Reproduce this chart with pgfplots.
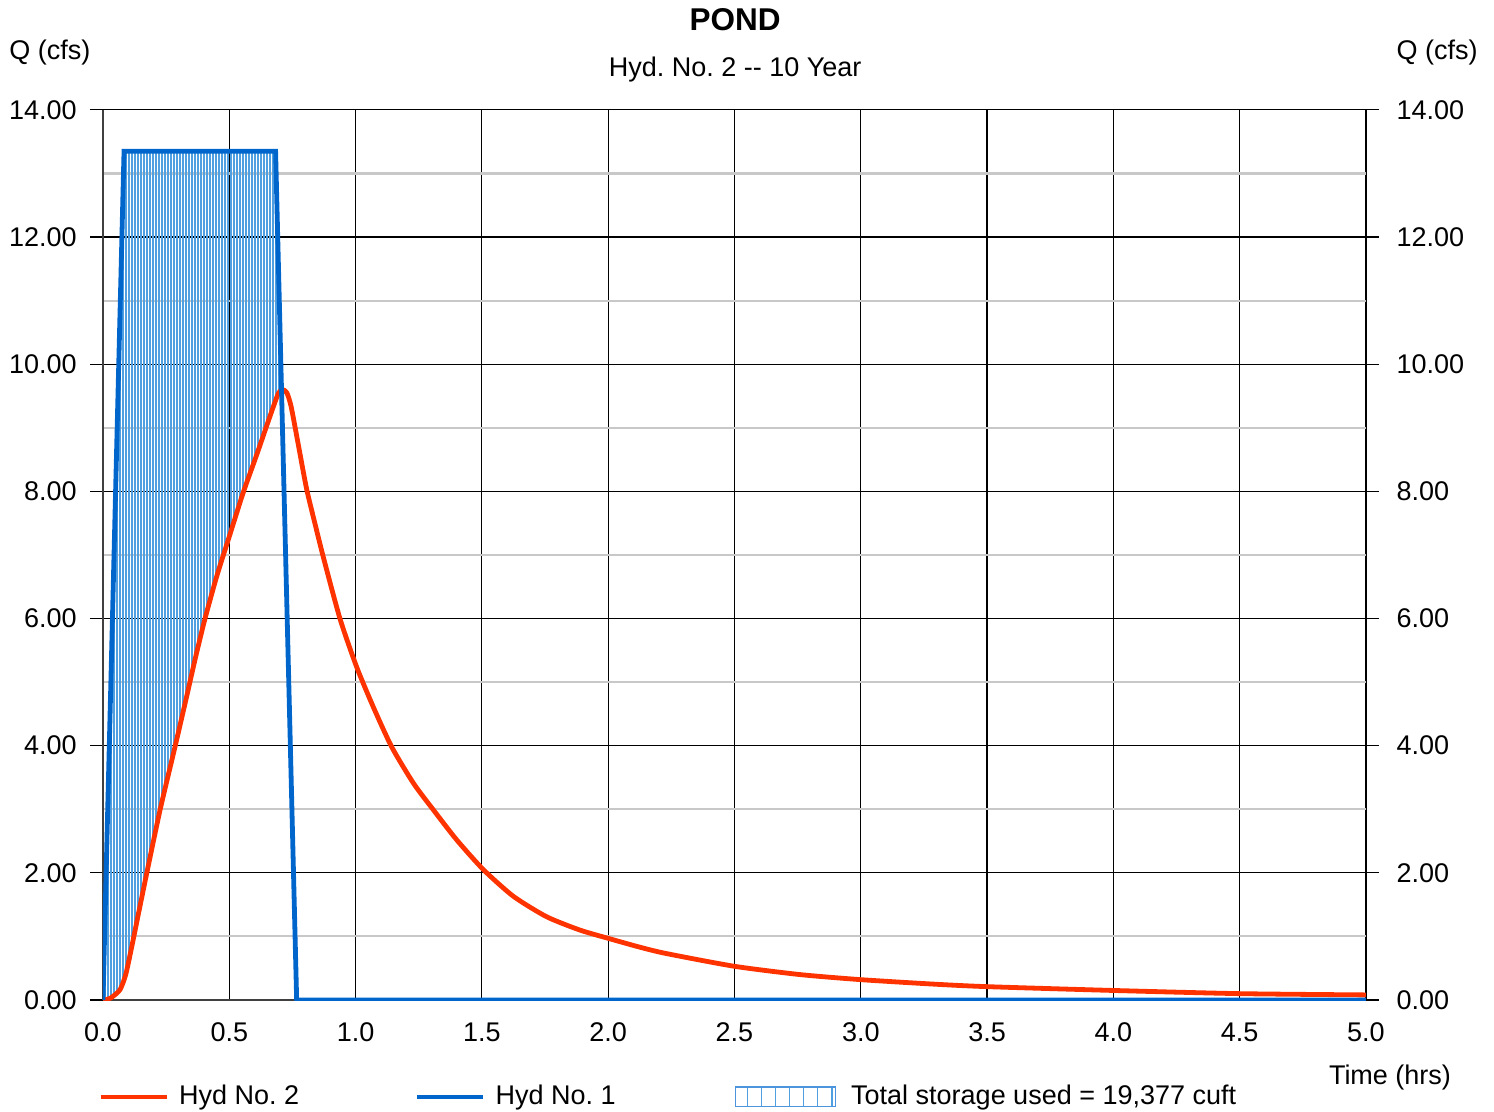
\documentclass[border=0pt]{standalone}
\usepackage{fontspec}
\setmainfont{Liberation Sans}
\usepackage{pgfplots}
\pgfplotsset{compat=1.18}
\usepackage{pgfplotstable}
\usepgfplotslibrary{fillbetween}
\usetikzlibrary{patterns.meta}

\definecolor{hydred}{RGB}{255,51,0}
\definecolor{hydblue}{RGB}{0,102,204}
\definecolor{hatchblue}{RGB}{80,160,225}
\definecolor{minorgray}{RGB}{200,200,200}

% Hyd No. 2 (outflow)
\pgfplotstableread{
t q
0 0
0.03 0.03
0.067 0.16
0.09 0.4
0.114 0.84
0.14 1.35
0.173 1.99
0.226 2.99
0.285 3.98
0.331 4.77
0.367 5.40
0.404 6.0
0.45 6.66
0.5 7.29
0.555 7.98
0.608 8.57
0.661 9.18
0.694 9.54
0.711 9.6
0.728 9.55
0.745 9.33
0.773 8.74
0.806 8.04
0.84 7.48
0.872 6.97
0.938 6.0
1.004 5.24
1.07 4.61
1.143 3.98
1.229 3.41
1.308 2.99
1.4 2.52
1.506 2.05
1.625 1.63
1.756 1.31
1.888 1.10
2.0 0.97
2.126 0.83
2.231 0.73
2.5 0.53
2.759 0.40
3.0 0.32
3.287 0.25
3.5 0.21
4.0 0.15
4.5 0.10
5.0 0.08
}\hydtwo

% Hyd No. 1 (inflow)
\pgfplotstableread{
t q
0 0
0.0833 13.35
0.6833 13.35
0.7667 0
5.0 0
}\hydone

\begin{document}
\frenchspacing
\fontsize{9}{10.8}\selectfont
\begin{tikzpicture}
\begin{axis}[
  at={(0,0)}, anchor=south west,
  scale only axis, width=421pt, height=296.7pt,
  xmin=0, xmax=5, ymin=0, ymax=14,
  xtick={0,0.5,...,5}, ytick={0,2,...,14},
  minor y tick num=1,
  xmajorgrids, ymajorgrids, yminorgrids,
  major grid style={black, line width=0.4pt},
  minor grid style={minorgray, line width=0.7pt},
  axis lines*=left,
  axis line style={-, black!75, line width=0.5pt},
  xtick style={draw=none},
  ytick pos=left,
  ytick style={black, line width=0.4pt},
  minor tick length=0pt,
  major tick length=4.3pt,
  tick align=outside,
  /pgf/number format/assume math mode=true,
  xticklabel style={/pgf/number format/.cd, fixed, fixed zerofill, precision=1},
  yticklabel style={xshift=-1.3pt, /pgf/number format/.cd, fixed, fixed zerofill, precision=2},
  xlabel={Time (hrs)},
  xlabel style={at={(axis description cs:1,0)}, anchor=center, xshift=8pt, yshift=-26pt},
  legend columns=3,
  legend cell align=left,
  legend style={at={(0,0)}, anchor=west, xshift=-1.8pt, yshift=-32.3pt,
    draw=none, fill=none, inner sep=0pt},
  legend image code/.code={\draw[#1] (0pt,0pt) -- (22pt,0pt); \path (23.4pt,0pt);},
]
\addplot[draw=none, name path=blue, forget plot] table[x=t, y=q] {\hydone};
\addplot[draw=none, smooth, tension=0.4, name path=red, forget plot] table[x=t, y=q] {\hydtwo};
\addplot[pattern={Lines[angle=90, distance=1pt, line width=0.6pt]},
  pattern color=hatchblue, forget plot]
  fill between[of=blue and red, soft clip={domain=0:0.71}];

\addplot[hydred, line width=1.6pt, line join=round, smooth, tension=0.4] table[x=t, y=q] {\hydtwo};
\addlegendentry{\makebox[76.5pt][l]{Hyd No. 2}}
\addplot[hydblue, line width=1.6pt] table[x=t, y=q] {\hydone};
\addlegendentry{\makebox[77.8pt][l]{Hyd No. 1}}
\addlegendimage{legend image code/.code={
  \draw[hydblue!70, line width=0.4pt, pattern={Lines[angle=90, distance=4.7pt, line width=0.4pt]},
    pattern color=hatchblue] (0pt,-3.3pt) rectangle (33.3pt,3.3pt);
  \path (36.3pt,0pt);}}
\addlegendentry{Total storage used = 19,377 cuft}
\end{axis}

% right-hand scale
\begin{axis}[
  at={(0,0)}, anchor=south west,
  scale only axis, width=421pt, height=296.7pt,
  xmin=0, xmax=5, ymin=0, ymax=14,
  axis x line=none, axis y line*=right,
  axis line style={draw=none},
  ytick={0,2,...,14},
  ytick style={black, line width=0.4pt},
  major tick length=4.3pt,
  tick align=outside,
  /pgf/number format/assume math mode=true,
  yticklabel style={xshift=2.7pt, /pgf/number format/.cd, fixed, fixed zerofill, precision=2},
]
\end{axis}

\node[font=\fontsize{10.5}{12}\selectfont\bfseries] at (210.7pt,326.7pt) {POND};
\node at (210.7pt,310.3pt) {Hyd. No. 2 -{}- 10 Year};
\node at (-17.7pt,315.7pt) {Q (cfs)};
\node at (444.7pt,315.7pt) {Q (cfs)};

\pgfresetboundingbox
\useasboundingbox (-34.33pt,-37.33pt) rectangle (463.67pt,333.33pt);
\end{tikzpicture}
\end{document}
